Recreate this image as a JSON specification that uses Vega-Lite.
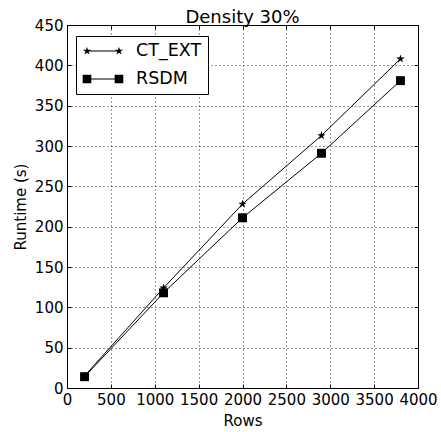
{
  "$schema": "https://vega.github.io/schema/vega-lite/v6.json",
  "width": 351,
  "height": 363,
  "autosize": {"type": "none"},
  "padding": {"left": 67, "top": 25, "right": 23, "bottom": 44},
  "title": {"text": "Density 30%", "fontSize": 18, "font": "DejaVu Sans", "fontWeight": "normal", "color": "black", "offset": -9},
  "config": {
    "font": "DejaVu Sans",
    "view": {"stroke": "black", "strokeWidth": 1},
    "axis": {
      "domain": false,
      "tickColor": "black",
      "tickSize": -4,
      "tickWidth": 1,
      "labelColor": "black",
      "labelFontSize": 15,
      "labelFont": "DejaVu Sans",
      "labelFlush": false,
      "labelOverlap": false,
      "titleFont": "DejaVu Sans",
      "titleFontSize": 15,
      "titleFontWeight": "normal",
      "titleColor": "black",
      "gridColor": "black",
      "gridDash": [1, 3],
      "gridOpacity": 1,
      "gridWidth": 0.8
    }
  },
  "data": {
    "values": [
      {"rows": 200, "runtime": 15, "method": "CT_EXT"},
      {"rows": 1100, "runtime": 124, "method": "CT_EXT"},
      {"rows": 2000, "runtime": 228, "method": "CT_EXT"},
      {"rows": 2900, "runtime": 313, "method": "CT_EXT"},
      {"rows": 3800, "runtime": 408, "method": "CT_EXT"},
      {"rows": 200, "runtime": 14, "method": "RSDM"},
      {"rows": 1100, "runtime": 118, "method": "RSDM"},
      {"rows": 2000, "runtime": 211, "method": "RSDM"},
      {"rows": 2900, "runtime": 291, "method": "RSDM"},
      {"rows": 3800, "runtime": 381, "method": "RSDM"}
    ]
  },
  "layer": [
    {
      "mark": {"type": "line", "color": "black", "strokeWidth": 1},
      "encoding": {
        "x": {"field": "rows", "type": "quantitative", "title": "Rows",
              "scale": {"domain": [0, 4000], "nice": false, "zero": false},
              "axis": {"orient": "bottom", "grid": true, "format": "d", "labelPadding": 8, "titlePadding": 6, "labelFlush": false, "labelOverlap": false, "values": [0,500,1000,1500,2000,2500,3000,3500,4000]}},
        "y": {"field": "runtime", "type": "quantitative", "title": "Runtime (s)",
              "scale": {"domain": [0, 450], "nice": false},
              "axis": {"orient": "left", "grid": true, "format": "d", "labelPadding": 8, "titlePadding": 6, "labelFlush": false, "labelOverlap": false, "values": [0,50,100,150,200,250,300,350,400,450]}},
        "detail": {"field": "method", "type": "nominal"}
      }
    },
    {
      "mark": {"type": "point", "filled": true, "color": "black", "opacity": 1, "size": 80},
      "encoding": {
        "x": {"field": "rows", "type": "quantitative",
              "axis": {"orient": "top", "labels": false, "title": null, "grid": false, "values": [0,500,1000,1500,2000,2500,3000,3500,4000]}},
        "y": {"field": "runtime", "type": "quantitative",
              "axis": {"orient": "right", "labels": false, "title": null, "grid": false, "values": [0,50,100,150,200,250,300,350,400,450]}},
        "shape": {"field": "method", "type": "nominal",
                  "scale": {"domain": ["CT_EXT", "RSDM"], "range": [
                    "M0,-1L0.2233,-0.3074L0.9511,-0.309L0.3614,0.1174L0.5878,0.809L0,0.38L-0.5878,0.809L-0.3614,0.1174L-0.9511,-0.309L-0.2233,-0.3074Z",
                    "square"]},
                  "legend": null}
      }
    },
    {
      "mark": {"type": "point", "filled": true, "color": "black", "fill": "black", "opacity": 1, "size": 0},
      "encoding": {
        "x": {"field": "rows", "type": "quantitative", "axis": null},
        "y": {"field": "runtime", "type": "quantitative", "axis": null},
        "shape": {"field": "method", "type": "nominal",
                  "scale": {"domain": ["CT_EXT", "RSDM"], "range": [
                    "M-0.5,-0.0625H3.5V0.0625H-0.5ZM-0.5,-0.54L-0.3794,-0.166L0.0136,-0.1669L-0.3048,0.0634L-0.1826,0.4369L-0.5,0.2052L-0.8174,0.4369L-0.6952,0.0634L-1.0136,-0.1669L-0.6206,-0.166ZM3.5,-0.54L3.6206,-0.166L4.0136,-0.1669L3.6952,0.0634L3.8174,0.4369L3.5,0.2052L3.1826,0.4369L3.3048,0.0634L2.9864,-0.1669L3.3794,-0.166Z",
                    "M-0.5,-0.0625H3.5V0.0625H-0.5ZM-1.04,-0.54H0.04V0.54H-1.04ZM2.96,-0.54H4.04V0.54H2.96Z"]},
                  "legend": {
                    "title": null,
                    "orient": "none",
                    "legendX": 9,
                    "legendY": 11,
                    "strokeColor": "black",
                    "fillColor": "white",
                    "padding": 6,
                    "cornerRadius": 0,
                    "labelFontSize": 17.5,
                    "labelFont": "DejaVu Sans",
                    "labelColor": "black",
                    "labelOffset": 36,
                    "symbolSize": 256,
                    "symbolOpacity": 1,
                    "symbolFillColor": "black",
                    "rowPadding": 10,
                    "encode": {
                      "symbols": {"update": {"fill": {"value": "black"}, "fillOpacity": {"value": 1}, "opacity": {"value": 1}}}
                    }
                  }}
      }
    }
  ],
  "resolve": {"scale": {"shape": "independent"}, "axis": {"x": "independent", "y": "independent"}}
}
